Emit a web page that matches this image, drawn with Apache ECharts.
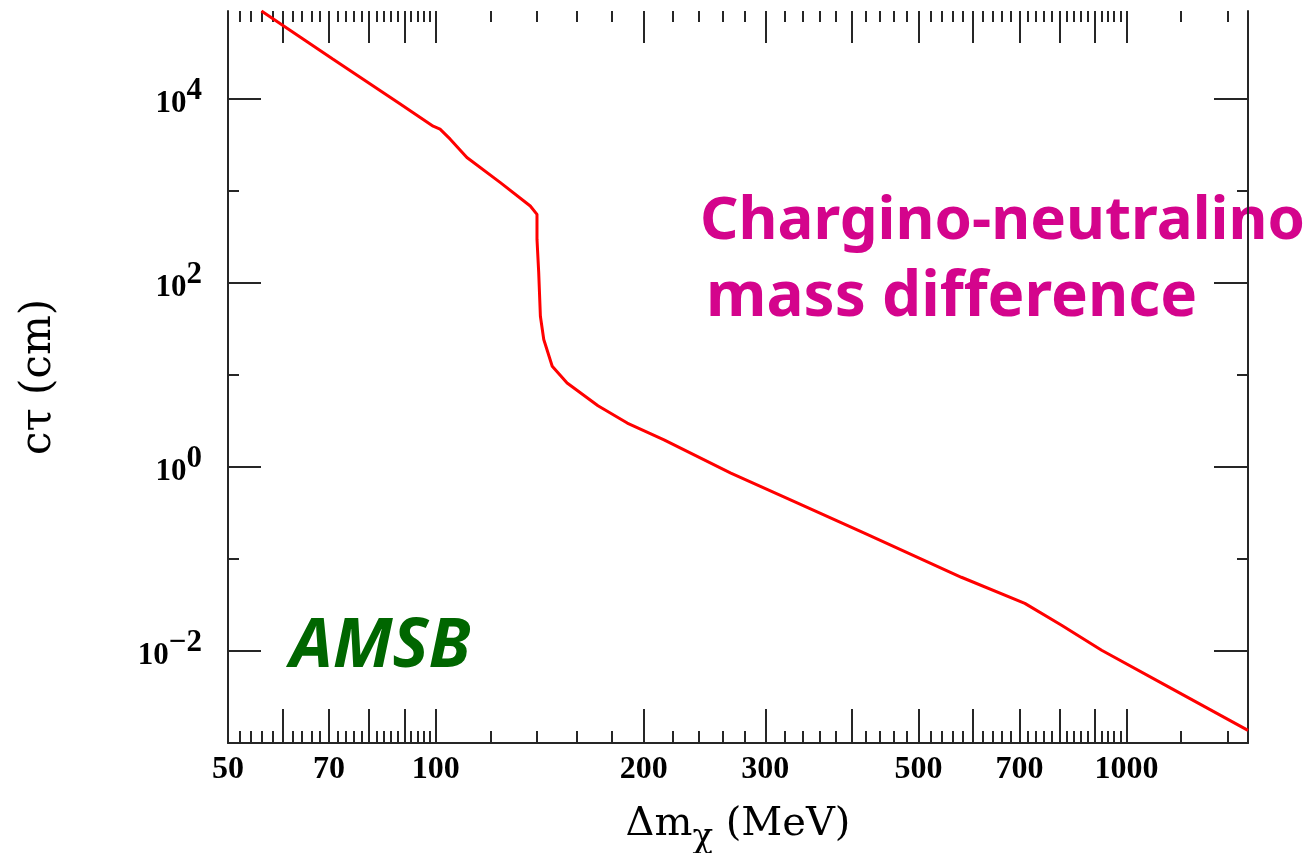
<!DOCTYPE html>
<html><head><meta charset="utf-8">
<script src="https://cdn.jsdelivr.net/npm/echarts@6/dist/echarts.min.js"></script>
<style>html,body{margin:0;padding:0;background:#fff}#c{width:1313px;height:853px}</style>
</head><body><div id="c"></div>
<script>
// Curve: chargino-neutralino mass difference (MeV) vs c*tau (cm)
const massMeV = [55.9, 70.9, 88.8, 99.1, 101.4, 104.9, 110.9, 124.0, 137.0, 140.1, 140.1, 140.9, 141.7, 143.3, 147.4, 154.9, 171.7, 189.3, 214.0, 267.4, 334.2, 417.4, 576.8, 712.7, 805.6, 920.7, 1150.7, 1500];
const ctauCm  = [9.1e4, 2.73e4, 8.85e3, 5.09e3, 4.72e3, 3.68e3, 2.32e3, 1240, 690, 560, 299, 131, 43.7, 24.4, 12.5, 8.22, 4.65, 3.01, 1.98, 0.861, 0.406, 0.191, 0.0634, 0.0330, 0.0191, 0.0102, 0.00407, 0.00137];

const xRange = [50, 1500];
const yRange = [1e-3, 9.1e4];
const xLabelValues = [50, 70, 100, 200, 300, 500, 700, 1000];
const xMajorTicks = [60, 70, 80, 90, 100, 200, 300, 400, 500, 600, 700, 800, 900, 1000];
const xMinorTicks = [52,54,56,58, 62,64,66,68, 72,74,76,78, 82,84,86,88, 92,94,96,98,
  120,140,160,180, 220,240,260,280, 320,340,360,380, 420,440,460,480, 520,540,560,580,
  620,640,660,680, 720,740,760,780, 820,840,860,880, 920,940,960,980, 1200,1400];
const yLabelValues = [1e-2, 1, 1e2, 1e4];
const yMajorTicks = [1e-2, 1, 1e2, 1e4];
const yMinorTicks = [1e-3, 1e-1, 1e1, 1e3];

const xTitle = '{a|\u0394m}{b|\u03c7}{a| (MeV)}';
const yTitle = 'c\u03c4 (cm)';
const noteLine1 = 'Chargino-neutralino';
const noteLine2 = 'mass difference';
const modelLabel = 'AMSB';

const AX = '#262626';
const SERIF = 'DejaVu Serif';
const TICKFONT = 'Liberation Serif';
const gridRect = {left: 228, right: 65, top: 11, bottom: 110, outerBoundsMode: 'none'};

function xAxisDef(gi, pos, ticks, len, showLine, withLabels) {
  const ax = {
    type: 'log', logBase: 10, gridIndex: gi, position: pos, min: xRange[0], max: xRange[1],
    axisLine: {show: showLine, lineStyle: {color: AX, width: 2}},
    axisTick: {show: true, inside: true, length: len, customValues: ticks, lineStyle: {color: AX, width: 2}},
    axisLabel: {show: false},
    splitLine: {show: false}, minorTick: {show: false}, minorSplitLine: {show: false}
  };
  if (withLabels) {
    ax.axisLabel = {show: true, customValues: xLabelValues, margin: 11, color: '#000',
      fontFamily: TICKFONT, fontWeight: 'bold', fontSize: 32, formatter: v => String(Math.round(v))};
    ax.name = xTitle;
    ax.nameLocation = 'middle';
    ax.nameGap = 62;
    ax.nameTextStyle = {rich: {
      a: {fontFamily: SERIF, fontSize: 40, lineHeight: 40, color: '#000'},
      b: {fontFamily: SERIF, fontSize: 34, lineHeight: 34, color: '#000', padding: [26, 0, 0, 0]}
    }};
  }
  return ax;
}
function yAxisDef(gi, pos, ticks, len, showLine, withLabels) {
  const ax = {
    type: 'log', logBase: 10, gridIndex: gi, position: pos, min: yRange[0], max: yRange[1],
    axisLine: {show: showLine, lineStyle: {color: AX, width: 2}},
    axisTick: {show: true, inside: true, length: len, customValues: ticks, lineStyle: {color: AX, width: 2}},
    axisLabel: {show: false},
    splitLine: {show: false}, minorTick: {show: false}, minorSplitLine: {show: false}
  };
  if (withLabels) {
    ax.axisLabel = {show: true, customValues: yLabelValues, margin: 26, color: '#000',
      formatter: v => {
        const e = Math.round(Math.log10(v));
        return '{b|10}{s|' + (e < 0 ? '\u2212' + (-e) : e) + '}';
      },
      rich: {
        b: {fontFamily: TICKFONT, fontWeight: 'bold', fontSize: 31, lineHeight: 31, color: '#000', padding: [10, 0, 0, 0]},
        s: {fontFamily: TICKFONT, fontWeight: 'bold', fontSize: 31, lineHeight: 31, color: '#000', padding: [0, 0, 16, 0]}
      }};
    ax.name = yTitle;
    ax.nameLocation = 'middle';
    ax.nameGap = 168;
    ax.nameTextStyle = {fontFamily: SERIF, fontSize: 42, color: '#000'};
  }
  return ax;
}

const chart = echarts.init(document.getElementById('c'), null, {renderer: 'canvas'});
chart.setOption({
  animation: false,
  backgroundColor: '#fff',
  grid: [Object.assign({}, gridRect), Object.assign({}, gridRect)],
  xAxis: [
    xAxisDef(0, 'bottom', xMajorTicks, 34, true, true),
    xAxisDef(0, 'top', xMajorTicks, 32, false, false),
    xAxisDef(1, 'bottom', xMinorTicks, 12, false, false),
    xAxisDef(1, 'top', xMinorTicks, 11, false, false)
  ],
  yAxis: [
    yAxisDef(0, 'left', yMajorTicks, 33, true, true),
    yAxisDef(0, 'right', yMajorTicks, 34, true, false),
    yAxisDef(1, 'left', yMinorTicks, 11, false, false),
    yAxisDef(1, 'right', yMinorTicks, 11, false, false)
  ],
  series: [{
    type: 'line', xAxisIndex: 0, yAxisIndex: 0,
    data: massMeV.map((m, i) => [m, ctauCm[i]]),
    showSymbol: false, symbol: 'none', smooth: false, clip: true,
    lineStyle: {color: '#ff0000', width: 3}
  }],
  graphic: [
    {type: 'text', x: 700, y: 222, style: {text: noteLine1, fill: '#d4048c',
      font: 'bold 60px "Noto Sans"', textAlign: 'left', textVerticalAlign: 'middle'}},
    {type: 'text', x: 706, y: 298, style: {text: noteLine2, fill: '#d4048c',
      font: 'bold 62px "Noto Sans"', textAlign: 'left', textVerticalAlign: 'middle'}},
    {type: 'text', x: 290, y: 648, style: {text: modelLabel, fill: '#006600',
      font: 'italic bold 68px "Noto Sans"', textAlign: 'left', textVerticalAlign: 'middle'}}
  ]
});
</script>
</body></html>
